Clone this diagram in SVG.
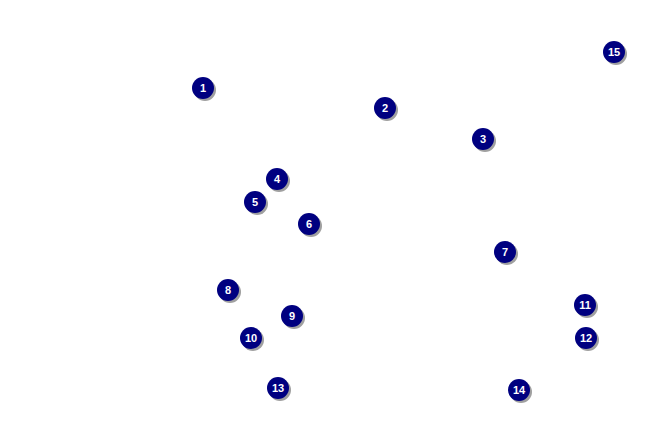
<svg xmlns="http://www.w3.org/2000/svg" width="650" height="425" viewBox="0 0 650 425">
<style>
.s{fill:#a0a0a0}
.c{fill:#000080}
.t{fill:#fff;font-family:"Liberation Sans",Arial,sans-serif;font-weight:bold;font-size:11px;text-anchor:middle}
</style>
<defs>
<g id="b"><circle class="s" cx="2" cy="2" r="11"/><circle class="c" cx="0" cy="0" r="11"/></g>
</defs>
<rect width="650" height="425" fill="#fff"/>
<g id="connectors"/>
<g id="n1" transform="translate(203,88)"><use href="#b"/><text class="t" y="4">1</text></g>
<g id="n2" transform="translate(385,108)"><use href="#b"/><text class="t" y="4">2</text></g>
<g id="n3" transform="translate(483,139)"><use href="#b"/><text class="t" y="4">3</text></g>
<g id="n4" transform="translate(277,179)"><use href="#b"/><text class="t" y="4">4</text></g>
<g id="n5" transform="translate(255,202)"><use href="#b"/><text class="t" y="4">5</text></g>
<g id="n6" transform="translate(309,224)"><use href="#b"/><text class="t" y="4">6</text></g>
<g id="n7" transform="translate(505,252)"><use href="#b"/><text class="t" y="4">7</text></g>
<g id="n8" transform="translate(228,290)"><use href="#b"/><text class="t" y="4">8</text></g>
<g id="n9" transform="translate(292,316)"><use href="#b"/><text class="t" y="4">9</text></g>
<g id="n10" transform="translate(251,338)"><use href="#b"/><text class="t" y="4">10</text></g>
<g id="n11" transform="translate(585,305)"><use href="#b"/><text class="t" y="4">11</text></g>
<g id="n12" transform="translate(586,338)"><use href="#b"/><text class="t" y="4">12</text></g>
<g id="n13" transform="translate(278,388)"><use href="#b"/><text class="t" y="4">13</text></g>
<g id="n14" transform="translate(519,390)"><use href="#b"/><text class="t" y="4">14</text></g>
<g id="n15" transform="translate(614,52)"><use href="#b"/><text class="t" y="4">15</text></g>
</svg>
